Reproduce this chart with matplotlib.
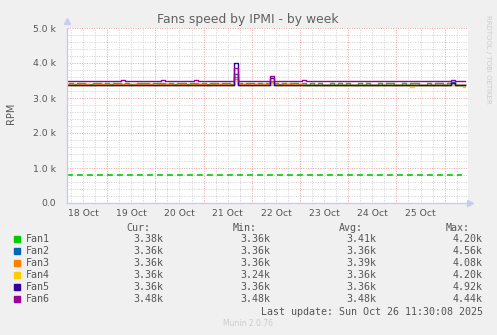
import numpy as np
import matplotlib
matplotlib.use("Agg")
import matplotlib.pyplot as plt
from matplotlib.patches import Rectangle

# fan speeds in k RPM, one value every 2 hours starting 18 Oct 04:00
fan1 = [3.40, 3.42, 3.40, 3.42, 3.42, 3.40, 3.40, 3.42, 3.42, 3.40,
        3.42, 3.40, 3.42, 3.42, 3.40, 3.42, 3.40, 3.40, 3.42, 3.42,
        3.42, 3.40, 3.42, 3.42, 3.42, 3.40, 3.42, 3.40, 3.42, 3.42,
        3.40, 3.42, 3.42, 3.40, 3.42, 3.40, 3.42, 3.42, 3.40, 3.42,
        3.42, 3.40, 3.60, 3.42, 3.40, 3.42, 3.42, 3.40, 3.42, 3.40,
        3.42, 3.50, 3.42, 3.40, 3.42, 3.40, 3.42, 3.42, 3.40, 3.42,
        3.36, 3.42, 3.36, 3.42, 3.36, 3.36, 3.42, 3.36, 3.42, 3.36,
        3.42, 3.36, 3.36, 3.42, 3.36, 3.42, 3.36, 3.36, 3.42, 3.36,
        3.42, 3.42, 3.36, 3.36, 3.42, 3.36, 3.42, 3.42, 3.36, 3.36,
        3.42, 3.36, 3.42, 3.42, 3.36, 3.42, 3.45, 3.36, 3.36, 3.36]
fan2 = [3.36, 3.36, 3.36, 3.36, 3.36, 3.36, 3.36, 3.36, 3.36, 3.36,
        3.36, 3.36, 3.36, 3.36, 3.36, 3.36, 3.36, 3.36, 3.36, 3.36,
        3.36, 3.36, 3.36, 3.36, 3.36, 3.36, 3.36, 3.36, 3.36, 3.36,
        3.36, 3.36, 3.36, 3.36, 3.36, 3.36, 3.36, 3.36, 3.36, 3.36,
        3.36, 3.36, 3.70, 3.36, 3.36, 3.36, 3.36, 3.36, 3.36, 3.36,
        3.36, 3.45, 3.36, 3.36, 3.36, 3.36, 3.36, 3.36, 3.36, 3.36,
        3.36, 3.36, 3.36, 3.36, 3.36, 3.36, 3.36, 3.36, 3.36, 3.36,
        3.36, 3.36, 3.36, 3.36, 3.36, 3.36, 3.36, 3.36, 3.36, 3.36,
        3.36, 3.36, 3.36, 3.36, 3.36, 3.36, 3.36, 3.36, 3.36, 3.36,
        3.36, 3.36, 3.36, 3.36, 3.36, 3.36, 3.47, 3.36, 3.36, 3.36]
fan3 = [3.39, 3.39, 3.38, 3.39, 3.39, 3.39, 3.38, 3.39, 3.39, 3.39,
        3.39, 3.38, 3.39, 3.39, 3.39, 3.39, 3.38, 3.39, 3.39, 3.39,
        3.39, 3.39, 3.38, 3.39, 3.39, 3.39, 3.39, 3.38, 3.39, 3.39,
        3.38, 3.39, 3.39, 3.39, 3.39, 3.38, 3.39, 3.39, 3.39, 3.39,
        3.39, 3.38, 3.55, 3.39, 3.39, 3.39, 3.38, 3.39, 3.39, 3.39,
        3.39, 3.45, 3.39, 3.38, 3.39, 3.39, 3.39, 3.38, 3.39, 3.36,
        3.36, 3.36, 3.36, 3.36, 3.36, 3.36, 3.36, 3.36, 3.36, 3.36,
        3.36, 3.36, 3.36, 3.36, 3.36, 3.36, 3.36, 3.36, 3.36, 3.36,
        3.36, 3.36, 3.36, 3.36, 3.36, 3.36, 3.36, 3.36, 3.36, 3.36,
        3.36, 3.38, 3.38, 3.38, 3.36, 3.36, 3.36, 3.36, 3.36, 3.36]
fan4 = [3.36, 3.36, 3.36, 3.36, 3.36, 3.36, 3.36, 3.36, 3.36, 3.36,
        3.36, 3.36, 3.36, 3.36, 3.36, 3.36, 3.36, 3.36, 3.36, 3.36,
        3.36, 3.36, 3.36, 3.36, 3.36, 3.36, 3.36, 3.36, 3.36, 3.36,
        3.36, 3.36, 3.36, 3.36, 3.36, 3.36, 3.36, 3.36, 3.36, 3.36,
        3.36, 3.36, 3.50, 3.36, 3.36, 3.36, 3.36, 3.36, 3.36, 3.36,
        3.36, 3.36, 3.36, 3.36, 3.36, 3.36, 3.36, 3.36, 3.36, 3.36,
        3.36, 3.36, 3.36, 3.36, 3.36, 3.36, 3.36, 3.36, 3.36, 3.36,
        3.36, 3.36, 3.36, 3.36, 3.36, 3.36, 3.36, 3.36, 3.36, 3.36,
        3.36, 3.36, 3.36, 3.36, 3.36, 3.36, 3.31, 3.36, 3.36, 3.36,
        3.36, 3.36, 3.36, 3.36, 3.36, 3.36, 3.36, 3.36, 3.36, 3.31]
fan5 = [3.36, 3.36, 3.36, 3.36, 3.36, 3.36, 3.36, 3.36, 3.36, 3.36,
        3.36, 3.36, 3.36, 3.36, 3.36, 3.36, 3.36, 3.36, 3.36, 3.36,
        3.36, 3.36, 3.36, 3.36, 3.36, 3.36, 3.36, 3.36, 3.36, 3.36,
        3.36, 3.36, 3.36, 3.36, 3.36, 3.36, 3.36, 3.36, 3.36, 3.36,
        3.36, 3.36, 4.00, 3.36, 3.36, 3.36, 3.36, 3.36, 3.36, 3.36,
        3.36, 3.56, 3.36, 3.36, 3.36, 3.36, 3.36, 3.36, 3.36, 3.36,
        3.36, 3.36, 3.36, 3.36, 3.36, 3.36, 3.36, 3.36, 3.36, 3.36,
        3.36, 3.36, 3.36, 3.36, 3.36, 3.36, 3.36, 3.36, 3.36, 3.36,
        3.36, 3.36, 3.36, 3.36, 3.36, 3.36, 3.36, 3.36, 3.36, 3.36,
        3.36, 3.36, 3.36, 3.36, 3.36, 3.36, 3.42, 3.36, 3.36, 3.36]
fan6 = [3.48, 3.48, 3.48, 3.48, 3.48, 3.48, 3.48, 3.48, 3.48, 3.48,
        3.48, 3.48, 3.48, 3.48, 3.51, 3.48, 3.48, 3.48, 3.48, 3.48,
        3.48, 3.48, 3.48, 3.48, 3.51, 3.48, 3.48, 3.48, 3.48, 3.48,
        3.48, 3.48, 3.51, 3.48, 3.48, 3.48, 3.48, 3.48, 3.48, 3.48,
        3.48, 3.48, 3.85, 3.48, 3.48, 3.48, 3.48, 3.48, 3.48, 3.48,
        3.48, 3.62, 3.48, 3.48, 3.48, 3.48, 3.48, 3.48, 3.48, 3.51,
        3.48, 3.48, 3.48, 3.48, 3.48, 3.48, 3.48, 3.48, 3.48, 3.48,
        3.48, 3.48, 3.48, 3.48, 3.48, 3.48, 3.48, 3.48, 3.48, 3.48,
        3.48, 3.48, 3.48, 3.48, 3.48, 3.48, 3.48, 3.48, 3.48, 3.48,
        3.48, 3.48, 3.48, 3.48, 3.48, 3.48, 3.52, 3.48, 3.48, 3.48]
warning_level = 0.8

names = ["Fan1", "Fan2", "Fan3", "Fan4", "Fan5", "Fan6"]
colors = ["#00CC00", "#0066B3", "#FF8000", "#FFCC00", "#330099", "#990099"]
cur = ["3.38k", "3.36k", "3.36k", "3.36k", "3.36k", "3.48k"]
mins = ["3.36k", "3.36k", "3.36k", "3.24k", "3.36k", "3.48k"]
avg = ["3.41k", "3.36k", "3.39k", "3.36k", "3.36k", "3.48k"]
maxs = ["4.20k", "4.56k", "4.08k", "4.20k", "4.92k", "4.44k"]
day_labels = ["18 Oct", "19 Oct", "20 Oct", "21 Oct", "22 Oct", "23 Oct", "24 Oct", "25 Oct"]

# time in days since 18 Oct 00:00
t0 = 4 / 24
t_end = 8.485
times = t0 + np.arange(len(fan1)) / 12

W, H = 497, 335
fig = plt.figure(figsize=(W / 100, H / 100), dpi=100, facecolor="#F0F0F0")
ax = fig.add_axes([67 / W, 1 - 203 / H, 401 / W, 175 / H])
ax.set_facecolor("white")
ax.set_xlim(t0, t_end)
ax.set_ylim(0, 5.0)

# grid
for d in np.arange(0.25, 8.5, 0.25):
    if abs(d - round(d)) < 1e-6:
        continue
    ax.axvline(d, color="#CFCFCF", lw=0.7, ls=(0, (1, 1.5)), zorder=0)
for y in np.arange(0.2, 5.0, 0.2):
    if abs(y - round(y)) < 1e-6:
        continue
    ax.axhline(y, color="#CFCFCF", lw=0.7, ls=(0, (1, 1.5)), zorder=0)
for d in range(1, 9):
    ax.axvline(d, color="#E6A0A0", lw=0.7, ls=(0, (1, 1.5)), zorder=0.5)
for y in range(1, 6):
    ax.axhline(y, color="#E6A0A0", lw=0.7, ls=(0, (1, 1.5)), zorder=0.5)

for vals, c in zip([fan1, fan2, fan3, fan4, fan5, fan6], colors):
    ax.plot(times, vals, color=c, lw=1.0, drawstyle="steps-mid", zorder=2)

ax.plot([t0, 8.36], [warning_level, warning_level], color="#00CC00", lw=1.2,
        ls=(0, (3.5, 2.5)), zorder=2)

for s in ["top", "right"]:
    ax.spines[s].set_visible(False)
for s in ["left", "bottom"]:
    ax.spines[s].set_color("#C8CCF0")
    ax.spines[s].set_linewidth(1.0)
ax.plot([t0], [5.2], marker="^", color="#C8CCF0", ms=4, clip_on=False)
ax.plot([t_end + 0.05], [0], marker=">", color="#C8CCF0", ms=4, clip_on=False)

ax.set_yticks([0, 1, 2, 3, 4, 5])
ax.set_yticklabels(["0.0", "1.0 k", "2.0 k", "3.0 k", "4.0 k", "5.0 k"])
ax.set_xticks(np.arange(0.5, 8.5, 1.0))
ax.set_xticklabels(day_labels)
ax.tick_params(axis="both", length=0, labelsize=6.7, colors="#555555", pad=4)
ax.tick_params(axis="y", pad=8)

fig.text(248 / W, 1 - 19 / H, "Fans speed by IPMI - by week", ha="center",
         va="center", fontsize=8.9, color="#606060")
fig.text(11 / W, 1 - 113 / H, "RPM", rotation=90, ha="center", va="center",
         fontsize=7, color="#555555")
fig.text(488 / W, 1 - 15 / H, "RRDTOOL / TOBI OETIKER", rotation=270, ha="center",
         va="top", fontsize=5, color="#CCCCCC")

mono = "DejaVu Sans Mono"
fs = 7.2
tc = "#555555"
hy = 227.7
for x, h in [(150, "Cur:"), (257, "Min:"), (363, "Avg:"), (470, "Max:")]:
    fig.text(x / W, 1 - hy / H, h, ha="right", va="center", family=mono, fontsize=fs, color=tc)
for i, n in enumerate(names):
    y = 239.3 + i * 12
    fig.patches.append(Rectangle((14 / W, 1 - (y + 3) / H), 6 / W, 6 / H,
                                 transform=fig.transFigure, color=colors[i]))
    fig.text(26 / W, 1 - y / H, n, ha="left", va="center", family=mono, fontsize=fs, color=tc)
    for x, v in [(163, cur[i]), (270, mins[i]), (376, avg[i]), (483, maxs[i])]:
        fig.text(x / W, 1 - y / H, v, ha="right", va="center", family=mono, fontsize=fs, color=tc)
fig.text(483 / W, 1 - 311.7 / H, "Last update: Sun Oct 26 11:30:08 2025", ha="right",
         va="center", family=mono, fontsize=fs, color=tc)
fig.text(248 / W, 1 - 324 / H, "Munin 2.0.76", ha="center", va="center",
         fontsize=5.5, color="#CCCCCC")

fig.savefig("out.png", dpi=100, facecolor=fig.get_facecolor())
